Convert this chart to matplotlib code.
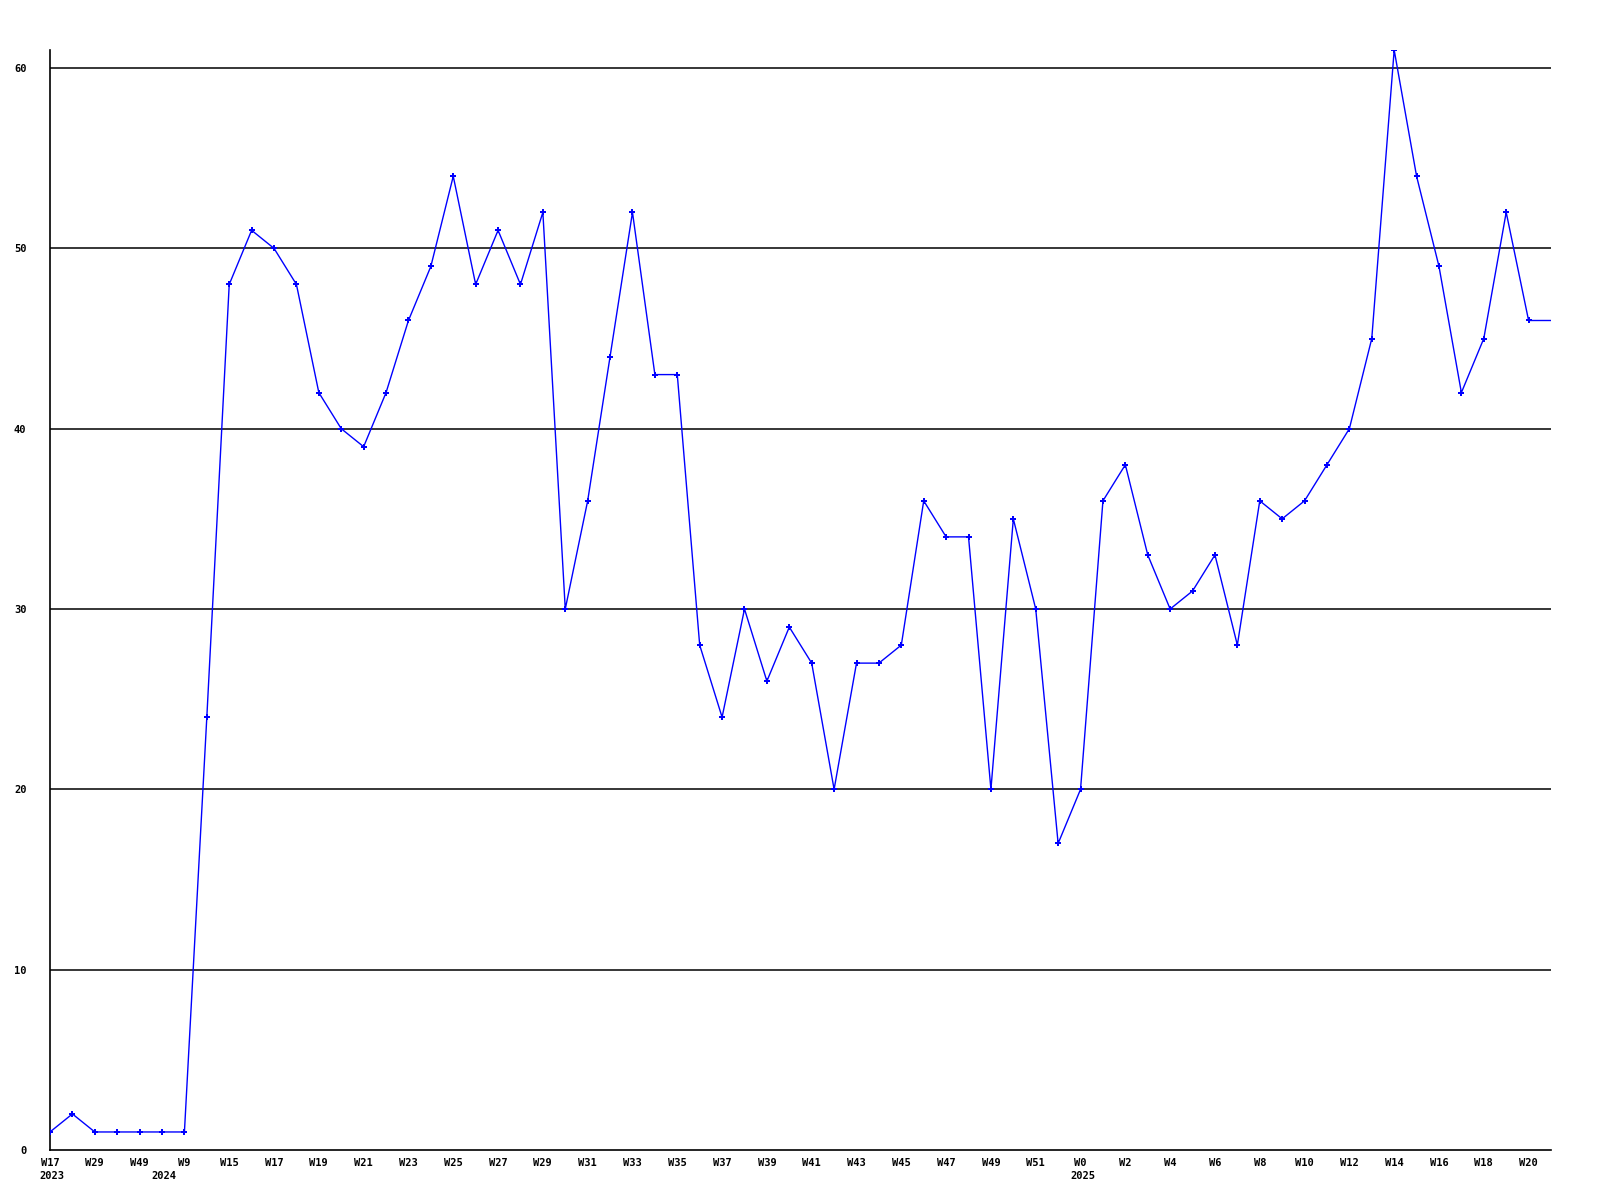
import numpy as np
import matplotlib
matplotlib.use("Agg")
import matplotlib.pyplot as plt

# weekly values, one per point (last one is the open week, drawn without a marker)
values = [1, 2, 1, 1, 1, 1, 1, 24, 48, 51,
          50, 48, 42, 40, 39, 42, 46, 49, 54, 48,
          51, 48, 52, 30, 36, 44, 52, 43, 43, 28,
          24, 30, 26, 29, 27, 20, 27, 27, 28, 36,
          34, 34, 20, 35, 30, 17, 20, 36, 38, 33,
          30, 31, 33, 28, 36, 35, 36, 38, 40, 45,
          61, 54, 49, 42, 45, 52, 46, 46]

# labels shown on every second point
week_labels = ["W17", "W29", "W49", "W9", "W15", "W17", "W19", "W21", "W23",
               "W25", "W27", "W29", "W31", "W33", "W35", "W37", "W39", "W41",
               "W43", "W45", "W47", "W49", "W51", "W0", "W2", "W4", "W6", "W8",
               "W10", "W12", "W14", "W16", "W18", "W20"]
year_labels = {0: "2023", 5: "2024", 46: "2025"}   # point index where the year starts
y_ticks = [0, 10, 20, 30, 40, 50, 60]

plt.rcParams['font.family'] = ['DejaVu Sans Mono']
plt.rcParams['font.weight'] = 'bold'

fig = plt.figure(figsize=(16, 12), dpi=100)
ax = fig.add_axes([50 / 1600, 50 / 1200, 1501 / 1600, 1100 / 1200])

x = np.arange(len(values))
n_marked = len(values) - 1
ax.plot(x, values, color='#0000ff', linewidth=1.0, zorder=3)
ax.plot(x[:n_marked], values[:n_marked], linestyle='none', marker='P',
        markersize=4.5, color='#0000ff', markeredgewidth=0, zorder=4)

ax.set_xlim(0, len(values) - 1)
ax.set_ylim(0, 61)

for yv in y_ticks[1:]:
    ax.axhline(yv, color='black', linewidth=1.1, zorder=1)

ax.set_yticks(y_ticks)
ax.set_yticklabels([str(v) for v in y_ticks], fontsize=7.5, fontweight='bold')
ax.tick_params(axis='y', length=0, pad=17)

tick_pos = list(range(0, 2 * len(week_labels), 2))
ax.set_xticks(tick_pos)
ax.set_xticklabels(week_labels, fontsize=7.5, fontweight='bold')
ax.tick_params(axis='x', length=0, pad=6)

for idx, yr in year_labels.items():
    ax.annotate(yr, xy=(idx, 0), xycoords=('data', 'axes fraction'),
                xytext=(-7.5, -19), textcoords='offset points',
                ha='left', va='center', fontsize=7.5, fontweight='bold')

for side in ['top', 'right']:
    ax.spines[side].set_visible(False)
for side in ['left', 'bottom']:
    ax.spines[side].set_color('black')
    ax.spines[side].set_linewidth(1.2)

fig.savefig("out.png", dpi=100, facecolor='white')
